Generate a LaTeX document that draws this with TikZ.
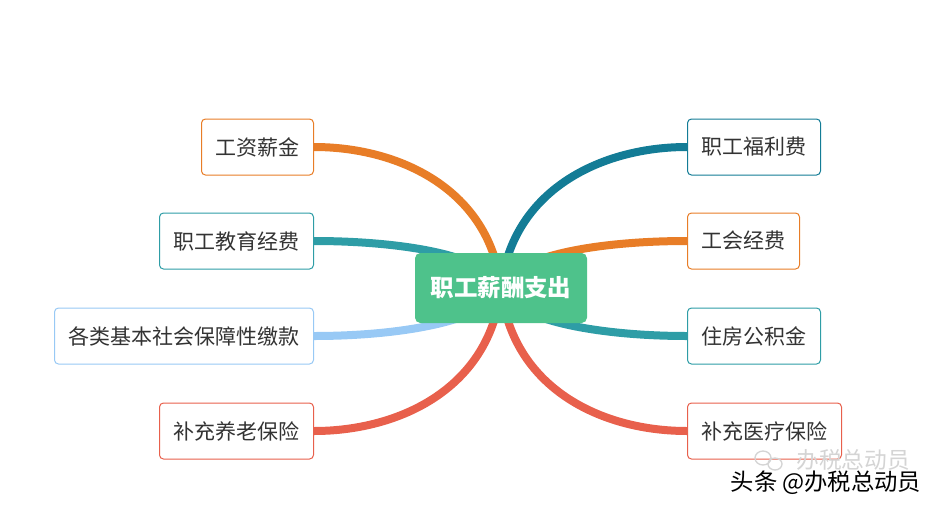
\documentclass[tikz,border=0pt]{standalone}
\usepackage{fontspec}
\newfontfamily\cjk{Noto Sans CJK SC}
\usepackage{tikz}
\usetikzlibrary{positioning,backgrounds}

\definecolor{HubGreen}{HTML}{4EC28B}
\definecolor{LineOrange}{HTML}{E87D27}
\definecolor{LineNavy}{HTML}{137C96}
\definecolor{LineTeal}{HTML}{2E9DA6}
\definecolor{LineSky}{HTML}{98C9F5}
\definecolor{LineRed}{HTML}{E8604C}
\definecolor{TextGray}{HTML}{333333}
\definecolor{MarkGray}{HTML}{D4D4D4}

\begin{document}
\begin{tikzpicture}[
x=0.75pt, y=-0.75pt,
hub/.style={fill=HubGreen, rounded corners=4pt, minimum width=129pt, minimum height=52.5pt, text=white, font=\cjk\bfseries\fontsize{17.6}{20}\selectfont},
leaf/.style={draw=#1, rounded corners=3pt, line width=0.75pt, fill=white, minimum height=42pt, inner xsep=10.5pt, text=TextGray, font=\cjk\fontsize{15.75}{18}\selectfont},
branch/.style={draw=#1, line width=6pt}
]
\useasboundingbox (0,0) rectangle (940,508);

\node[hub] (pay) at (501,288) {职工薪酬支出};

% left side
\node[leaf=LineOrange, anchor=east] (salary) at (314,147) {工资薪金};
\node[leaf=LineTeal, anchor=east] (edu) at (314,241) {职工教育经费};
\node[leaf=LineSky, anchor=east] (social) at (314,336) {各类基本社会保障性缴款};
\node[leaf=LineRed, anchor=east] (pension) at (314,431) {补充养老保险};

% right side
\node[leaf=LineNavy, anchor=west] (welfare) at (687,147) {职工福利费};
\node[leaf=LineOrange, anchor=west] (union) at (687,241) {工会经费};
\node[leaf=LineTeal, anchor=west] (housing) at (687,336) {住房公积金};
\node[leaf=LineRed, anchor=west] (medical) at (687,431) {补充医疗保险};

\begin{scope}[on background layer]
\draw[branch=LineOrange] (salary.east) .. controls +(86,0) and +(-11,-98) .. (pay.center);
\draw[branch=LineTeal] (edu.east) .. controls +(86,0) and +(-11,-33) .. (pay.center);
\draw[branch=LineSky] (social.east) .. controls +(86,0) and +(-11,33) .. (pay.center);
\draw[branch=LineRed] (pension.east) .. controls +(86,0) and +(-11,100) .. (pay.center);
\draw[branch=LineNavy] (welfare.west) .. controls +(-86,0) and +(11,-98) .. (pay.center);
\draw[branch=LineOrange] (union.west) .. controls +(-86,0) and +(11,-33) .. (pay.center);
\draw[branch=LineTeal] (housing.west) .. controls +(-86,0) and +(11,33) .. (pay.center);
\draw[branch=LineRed] (medical.west) .. controls +(-86,0) and +(11,100) .. (pay.center);
\end{scope}

% watermark
\draw[MarkGray, line width=1pt] (763,458) ellipse (8 and 7) (775,464) ellipse (7 and 6);
\node[text=MarkGray, font=\cjk\fontsize{17}{18}\selectfont] (markname) at (853,460) {办税总动员};
\node[text=black, font=\cjk\fontsize{17.5}{18}\selectfont] (mark) at (826,483) {头条 @办税总动员};
\end{tikzpicture}
\end{document}
